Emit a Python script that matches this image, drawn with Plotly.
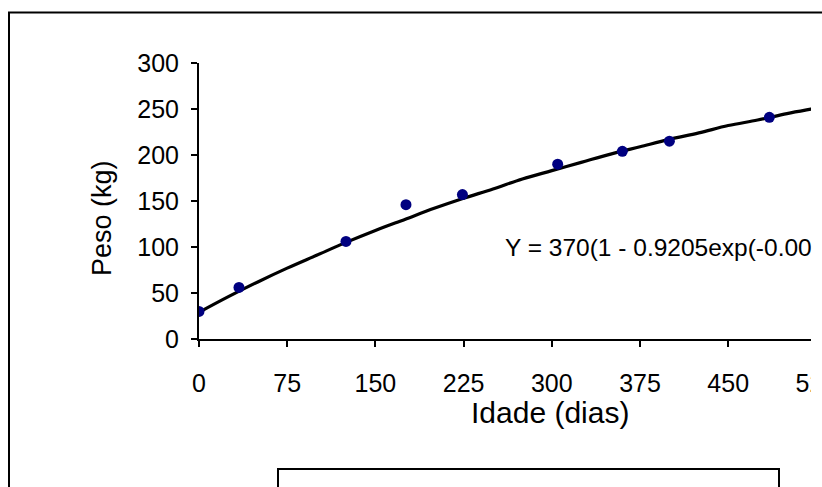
import plotly.graph_objects as go

# Observed data (Idade em dias, Peso em kg)
idade = [0, 34, 125, 176, 224, 305, 360, 400, 485]
peso = [30, 56, 106, 146, 157, 190, 204, 215, 241]

# Fitted curve
curva_idade = [0, 25, 50, 75, 100, 125, 150, 175, 200, 225, 250, 275, 300,
               325, 350, 375, 400, 425, 450, 475, 500, 525, 550]
curva_peso = [29, 46, 62, 77, 91, 105, 118, 130, 142, 153, 163, 174, 183,
              192, 201, 209, 217, 224, 232, 238, 245, 251, 257]

x_ticks = [0, 75, 150, 225, 300, 375, 450, 525]
y_ticks = [0, 50, 100, 150, 200, 250, 300]
equacao = "Y = 370(1 - 0.9205exp(-0.00"

FONT = "Liberation Sans, Arial, sans-serif"
W, H = 822, 487
L, T, B = 199, 63, 148
PW = W - L
PH = H - T - B


def px(x):
    return (x - L) / PW


def py(y):
    return (H - B - y) / PH


fig = go.Figure()
fig.add_trace(go.Scatter(x=curva_idade, y=curva_peso, mode="lines",
                         line=dict(color="black", width=3.2, shape="spline"),
                         showlegend=False, hoverinfo="skip"))
fig.add_trace(go.Scatter(x=idade, y=peso, mode="markers",
                         marker=dict(color="#000080", size=11),
                         showlegend=False))

shapes = [
    # white clip on right side
    dict(type="rect", xref="paper", yref="paper", x0=px(811), x1=px(840),
         y0=py(500), y1=py(15), fillcolor="white", line=dict(width=0),
         layer="above"),
    # outer frame
    dict(type="line", xref="paper", yref="paper", x0=px(9), x1=px(9),
         y0=py(500), y1=py(12.5), line=dict(color="black", width=2),
         layer="above"),
    dict(type="line", xref="paper", yref="paper", x0=px(8), x1=px(840),
         y0=py(12.5), y1=py(12.5), line=dict(color="black", width=2),
         layer="above"),
    # legend box at bottom
    dict(type="line", xref="paper", yref="paper", x0=px(278), x1=px(278),
         y0=py(500), y1=py(469), line=dict(color="black", width=2),
         layer="above"),
    dict(type="line", xref="paper", yref="paper", x0=px(779), x1=px(779),
         y0=py(500), y1=py(469), line=dict(color="black", width=2),
         layer="above"),
    dict(type="line", xref="paper", yref="paper", x0=px(277), x1=px(780),
         y0=py(469), y1=py(469), line=dict(color="black", width=2),
         layer="above"),
]

annotations = [
    dict(text=equacao, x=258.5, y=100, xref="x", yref="y", xanchor="left",
         yanchor="middle", showarrow=False,
         font=dict(family=FONT, size=24.5, color="black")),
    dict(text="Idade (dias)", x=px(550), y=py(412), xref="paper", yref="paper",
         xanchor="center", yanchor="middle", showarrow=False,
         font=dict(family=FONT, size=30, color="black")),
    dict(text="Peso (kg)", x=px(102), y=py(218), xref="paper", yref="paper",
         xanchor="center", yanchor="middle", showarrow=False, textangle=-90,
         font=dict(family=FONT, size=27, color="black")),
]

fig.update_layout(
    width=W, height=H,
    margin=dict(l=L, r=0, t=T, b=B, pad=0, autoexpand=False),
    paper_bgcolor="white", plot_bgcolor="white",
    font=dict(family=FONT, size=25, color="black"),
    shapes=shapes, annotations=annotations,
    xaxis=dict(range=[0, PW / (88.2 / 75)], tickvals=x_ticks,
               ticktext=[str(v) for v in x_ticks], automargin=False,
               showgrid=False, zeroline=False, showline=True,
               linecolor="black", linewidth=2, ticks="outside", ticklen=6,
               tickwidth=2, tickcolor="black", ticklabelstandoff=15,
               ticklabeloverflow="allow",
               tickfont=dict(family=FONT, size=25, color="black")),
    yaxis=dict(range=[0, 300], tickvals=y_ticks, automargin=False,
               showgrid=False, zeroline=False, showline=True,
               linecolor="black", linewidth=2, ticks="outside", ticklen=6,
               tickwidth=2, tickcolor="black", ticklabelstandoff=7,
               tickfont=dict(family=FONT, size=25, color="black")),
)

fig.write_html("out.html")
